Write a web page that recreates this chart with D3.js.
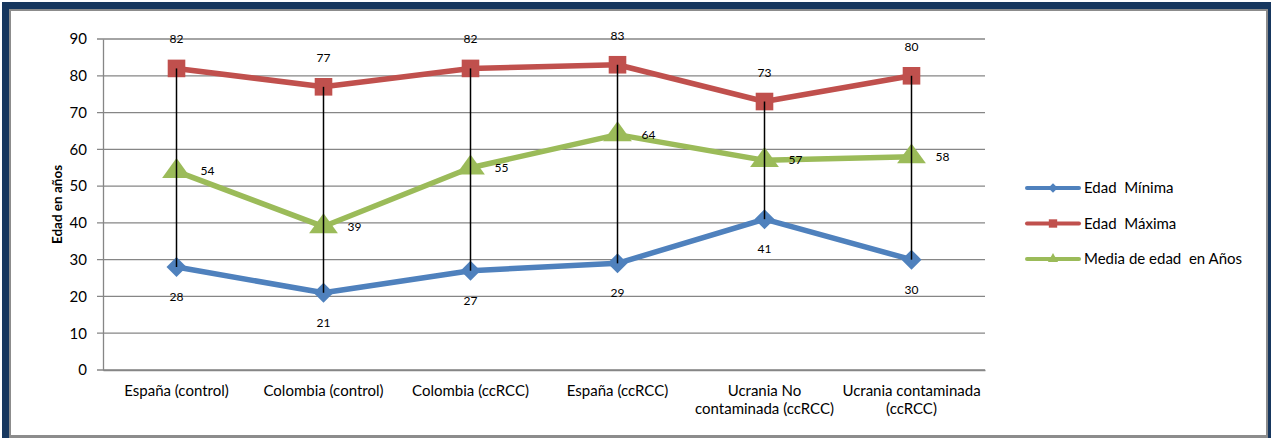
<!DOCTYPE html>
<html>
<head>
<meta charset="utf-8">
<script src="https://cdn.jsdelivr.net/npm/d3@7"></script>
<style>
  html, body { margin: 0; padding: 0; background: #fff; }
  svg { display: block; font-family: Lato, "Open Sans", sans-serif; }
</style>
</head>
<body>
<svg id="chart" width="1271" height="438"></svg>
<script>
const categories = [
  ["España (control)"],
  ["Colombia (control)"],
  ["Colombia (ccRCC)"],
  ["España (ccRCC)"],
  ["Ucrania No", "contaminada (ccRCC)"],
  ["Ucrania contaminada", "(ccRCC)"]
];
const edadMinima = [28, 21, 27, 29, 41, 30];
const edadMaxima = [82, 77, 82, 83, 73, 80];
const mediaEdad = [54, 39, 55, 64, 57, 58];
const yTicks = [0, 10, 20, 30, 40, 50, 60, 70, 80, 90];
const seriesNames = ["Edad  Mínima", "Edad  Máxima", "Media de edad  en Años"];

const svg = d3.select("#chart");

// frame
svg.append("rect").attr("x", 2).attr("y", 2).attr("width", 1280).attr("height", 450)
  .attr("fill", "#17375e");
svg.append("rect").attr("x", 9).attr("y", 9).attr("width", 1259).attr("height", 429)
  .attr("fill", "#8c8c8c");
svg.append("rect").attr("x", 11).attr("y", 11).attr("width", 1255).attr("height", 424)
  .attr("fill", "#fff");

const plotL = 103, plotR = 985, plotT = 39, plotB = 370;
const x = d3.scaleBand().domain(d3.range(categories.length)).range([plotL, plotR]);
const y = d3.scaleLinear().domain([0, 90]).range([plotB, plotT]);
const cx = i => x(i) + x.bandwidth() / 2;

// gridlines
svg.append("g").selectAll("line").data(yTicks).join("line")
  .attr("x1", plotL - 6).attr("x2", plotR)
  .attr("y1", d => y(d)).attr("y2", d => y(d))
  .attr("stroke", "#868686").attr("stroke-width", 1.3);

// y axis
const yAxis = svg.append("g").attr("transform", `translate(${plotL},0)`)
  .call(d3.axisLeft(y).tickValues(yTicks).tickSize(0).tickPadding(16));
yAxis.select(".domain").attr("stroke", "#868686").attr("stroke-width", 1.3);
yAxis.selectAll("text").attr("font-size", 15).attr("fill", "#000")
  .attr("font-family", "Lato, sans-serif");

// x axis
const xAxis = svg.append("g").attr("transform", `translate(0,${plotB})`)
  .call(d3.axisBottom(x).tickSize(0).tickFormat(""));
xAxis.select(".domain").attr("stroke", "#868686").attr("stroke-width", 1.3);
categories.forEach((lines, i) => {
  const t = svg.append("text").attr("x", cx(i)).attr("y", plotB + 26)
    .attr("text-anchor", "middle").attr("font-size", 15).attr("fill", "#000");
  lines.forEach((l, k) => t.append("tspan").attr("x", cx(i)).attr("dy", k === 0 ? 0 : 18).text(l));
});

// y title
svg.append("text").attr("transform", `translate(62,${(plotT + plotB) / 2}) rotate(-90)`)
  .attr("text-anchor", "middle").attr("font-size", 13.5).attr("font-weight", "bold")
  .text("Edad en años");

const series = [
  { name: seriesNames[0], values: edadMinima, color: "#4f81bd", symbol: d3.symbolSquare, size: 200, rot: 45 },
  { name: seriesNames[1], values: edadMaxima, color: "#c0504d", symbol: d3.symbolSquare, size: 310, rot: 0 },
  { name: seriesNames[2], values: mediaEdad, color: "#9bbb59", symbol: d3.symbolTriangle, size: 230, rot: 0 }
];

const line = d3.line().x((d, i) => cx(i)).y(d => y(d));
series.forEach(s => {
  svg.append("path").datum(s.values).attr("d", line)
    .attr("fill", "none").attr("stroke", s.color).attr("stroke-width", 5.5)
    .attr("stroke-linejoin", "round").attr("stroke-linecap", "round");
});

series.forEach(s => {
  svg.append("g").selectAll("path").data(s.values).join("path")
    .attr("d", d3.symbol().type(s.symbol).size(s.size))
    .attr("transform", (d, i) => `translate(${cx(i)},${y(d)}) rotate(${s.rot}) scale(${s.symbol === d3.symbolTriangle ? "1.25,1" : "1"})`)
    .attr("fill", s.color);
});

// high-low lines between minimum and maximum
svg.append("g").selectAll("line").data(categories).join("line")
  .attr("x1", (d, i) => cx(i)).attr("x2", (d, i) => cx(i))
  .attr("y1", (d, i) => y(edadMinima[i])).attr("y2", (d, i) => y(edadMaxima[i]))
  .attr("stroke", "#000").attr("stroke-width", 1.5);

// data labels
svg.append("g").selectAll("text").data(edadMaxima).join("text")
  .attr("x", (d, i) => cx(i)).attr("y", d => y(d) - 25)
  .attr("text-anchor", "middle").attr("font-size", 12).text(d => d);
svg.append("g").selectAll("text").data(edadMinima).join("text")
  .attr("x", (d, i) => cx(i)).attr("y", d => y(d) + 34)
  .attr("text-anchor", "middle").attr("font-size", 12).text(d => d);
svg.append("g").selectAll("text").data(mediaEdad).join("text")
  .attr("x", (d, i) => cx(i) + 31).attr("y", d => y(d) + 4)
  .attr("text-anchor", "middle").attr("font-size", 12).text(d => d);

// legend
const lg = svg.append("g");
series.forEach((s, k) => {
  const ly = 188 + k * 35.5;
  lg.append("line").attr("x1", 1027).attr("x2", 1079).attr("y1", ly).attr("y2", ly)
    .attr("stroke", s.color).attr("stroke-width", 4).attr("stroke-linecap", "round");
  lg.append("path").attr("d", d3.symbol().type(s.symbol).size(k === 1 ? 70 : 45))
    .attr("transform", `translate(1053,${ly}) rotate(${s.rot})`).attr("fill", s.color);
  lg.append("text").attr("x", 1084).attr("y", ly + 5).attr("font-size", 15).text(s.name)
    .style("white-space", "pre");
});
</script>
</body>
</html>
